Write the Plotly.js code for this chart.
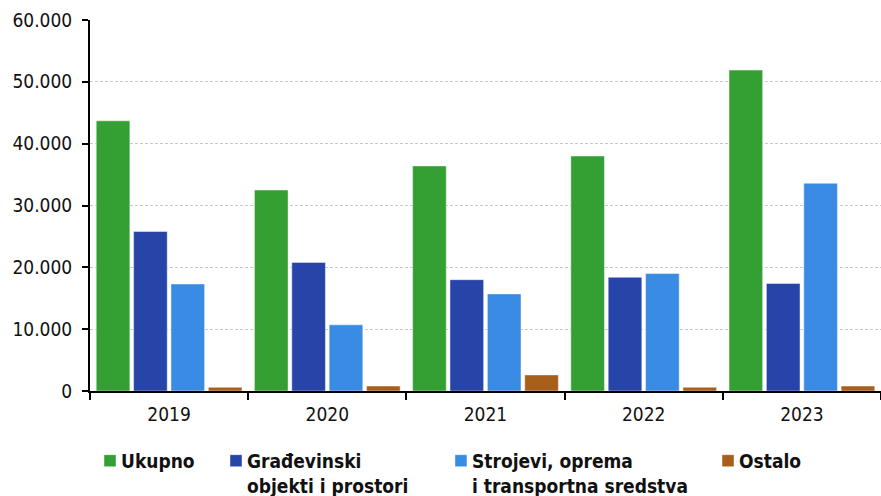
<!DOCTYPE html>
<html>
<head>
<meta charset="utf-8">
<script src="https://cdn.plot.ly/plotly-3.0.1.min.js"></script>
<style>
html,body{margin:0;padding:0;background:#fff;}
#chart{width:881px;height:496px;}
#chart .legendtext, #chart .legend2text, #chart .legend3text, #chart .legend4text{transform:translate(-9px,0px);}
</style>
</head>
<body>
<div id="chart"></div>
<script>
var years = ['2019', '2020', '2021', '2022', '2023'];
var seriesNames = ['Ukupno', 'Građevinski<br>objekti i prostori', 'Strojevi, oprema<br>i transportna sredstva', 'Ostalo'];
var ukupno = [43700, 32500, 36400, 38000, 51900];
var gradjevinski = [25800, 20800, 18000, 18400, 17400];
var strojevi = [17300, 10700, 15700, 19000, 33600];
var ostalo = [600, 800, 2600, 600, 800];
var colors = ['#34a034', '#2744a8', '#3a8be3', '#a85f1a'];
var yTicks = [0, 10000, 20000, 30000, 40000, 50000, 60000];

var legendIds = ['legend', 'legend2', 'legend3', 'legend4'];
var legendX = [0, 0.1593, 0.4437, 0.7813];

var values = [ukupno, gradjevinski, strojevi, ostalo];
var traces = values.map(function (v, i) {
  return {
    type: 'bar',
    name: seriesNames[i],
    x: years,
    y: v,
    legend: legendIds[i],
    marker: {color: colors[i], line: {color: 'rgba(255,255,255,0.45)', width: 1}},
    hoverinfo: 'x+y'
  };
});

var font = 'DejaVu Sans Condensed, DejaVu Sans, sans-serif';
var layout = {
  width: 881,
  height: 496,
  margin: {l: 90, r: 0, t: 20, b: 105, autoexpand: false},
  paper_bgcolor: '#ffffff',
  plot_bgcolor: '#ffffff',
  separators: ',.',
  barmode: 'group',
  bargap: 0.055,
  bargroupgap: 0.1,
  font: {family: font, size: 19, color: '#111111'},
  showlegend: true,
  xaxis: {
    type: 'category',
    showline: true,
    linecolor: '#000000',
    linewidth: 2,
    ticks: 'outside',
    tickson: 'boundaries',
    ticklen: 7,
    tickwidth: 2,
    tickcolor: '#000000',
    showgrid: false,
    ticklabelstandoff: 5,
    tickfont: {family: font, size: 19, color: '#111111'},
    zeroline: false
  },
  yaxis: {
    range: [0, 60000],
    tickvals: yTicks,
    tickformat: ',d',
    showline: true,
    linecolor: '#000000',
    linewidth: 2,
    ticks: 'outside',
    ticklen: 6,
    tickwidth: 2,
    tickcolor: '#000000',
    showgrid: true,
    gridcolor: '#c8c8c8',
    griddash: '3px,2px',
    gridwidth: 1,
    zeroline: false,
    ticklabelstandoff: 6,
    tickfont: {family: font, size: 19, color: '#111111'}
  }
};
legendIds.forEach(function (id, i) {
  layout[id] = {
    orientation: 'h',
    x: legendX[i],
    xanchor: 'left',
    y: -0.137,
    yanchor: 'top',
    valign: 'top',
    font: {family: font, size: 19, color: '#111111', weight: 'bold'},
    itemwidth: 30,
    bgcolor: 'rgba(0,0,0,0)'
  };
});

Plotly.newPlot('chart', traces, layout, {displayModeBar: false, staticPlot: true});
</script>
</body>
</html>
